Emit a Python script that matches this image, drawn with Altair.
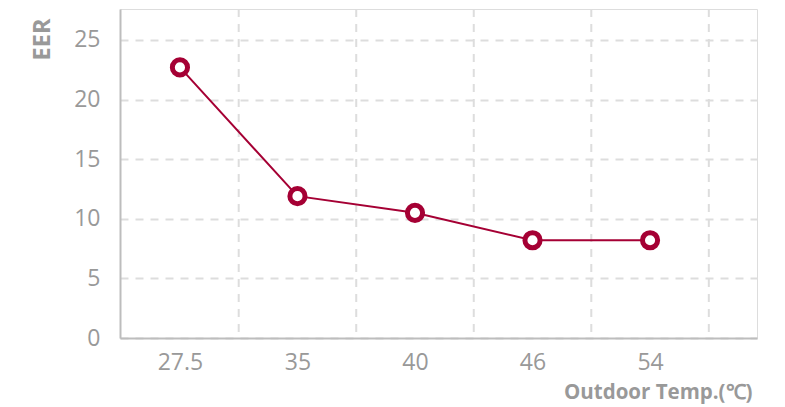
import altair as alt
import pandas as pd

temps = ["27.5", "35", "40", "46", "54"]
eer = [22.7, 11.9, 10.5, 8.2, 8.2]
idx = [0, 1, 2, 3, 4]
grid_x = [0.5, 1.5, 2.5, 3.5, 4.5]

df = pd.DataFrame({"i": idx, "temp": temps, "eer": eer})
gdf = pd.DataFrame({"g": grid_x})

RED = "#a50034"
FONT = "Open Sans"

label_expr = "[" + ",".join(f"'{t}'" for t in temps) + "][datum.value]"

xscale = alt.Scale(domain=[-0.51, 4.91], nice=False, zero=False)
yscale = alt.Scale(domain=[0, 27.6], nice=False)

xaxis = alt.Axis(
    values=idx, labelExpr=label_expr, grid=False, ticks=False,
    domainColor="#bdbdbd", domainWidth=2,
    labelFont=FONT, labelFontSize=23, labelColor="#999999", labelPadding=13,
    title="Outdoor Temp.(℃)", titleFont=FONT, titleFontSize=20.5, titleFontWeight="bold",
    titleColor="#999999", titleAnchor="end", titleAlign="right", titleBaseline="middle",
    titleX=632, titleY=54,
)
yaxis = alt.Axis(
    values=[0, 5, 10, 15, 20, 25], grid=True, gridDash=[8, 7], gridColor="#dddddd", gridWidth=2,
    ticks=False, domainColor="#bdbdbd", domainWidth=2,
    labelFont=FONT, labelFontSize=23, labelColor="#999999", labelPadding=20,
    title="EER", titleFont=FONT, titleFontSize=23.5, titleFontWeight="bold",
    titleColor="#999999", titleAngle=-90, titleAlign="center", titleBaseline="middle",
    titleX=-78, titleY=30,
)

grid = alt.Chart(gdf).mark_rule(color="#dddddd", strokeWidth=2, strokeDash=[8, 7]).encode(
    x=alt.X("g:Q", scale=xscale, axis=xaxis),
)

line = alt.Chart(df).mark_line(color=RED, strokeWidth=2).encode(
    x=alt.X("i:Q", scale=xscale, axis=xaxis),
    y=alt.Y("eer:Q", scale=yscale, axis=yaxis),
)
pts = alt.Chart(df).mark_point(
    shape="circle", filled=True, fill="white", stroke=RED, strokeWidth=5, size=230, opacity=1
).encode(
    x=alt.X("i:Q", scale=xscale, axis=xaxis),
    y=alt.Y("eer:Q", scale=yscale, axis=yaxis),
)

chart = alt.layer(grid, line, pts).properties(
    width=637, height=329,
    autosize=alt.AutoSizeParams(type="none"),
    padding={"left": 112, "top": 1, "right": 20, "bottom": 70},
).configure_view(stroke=None).configure(background="white")

chart.save("out.html", embed_options={"renderer": "svg", "actions": False})
